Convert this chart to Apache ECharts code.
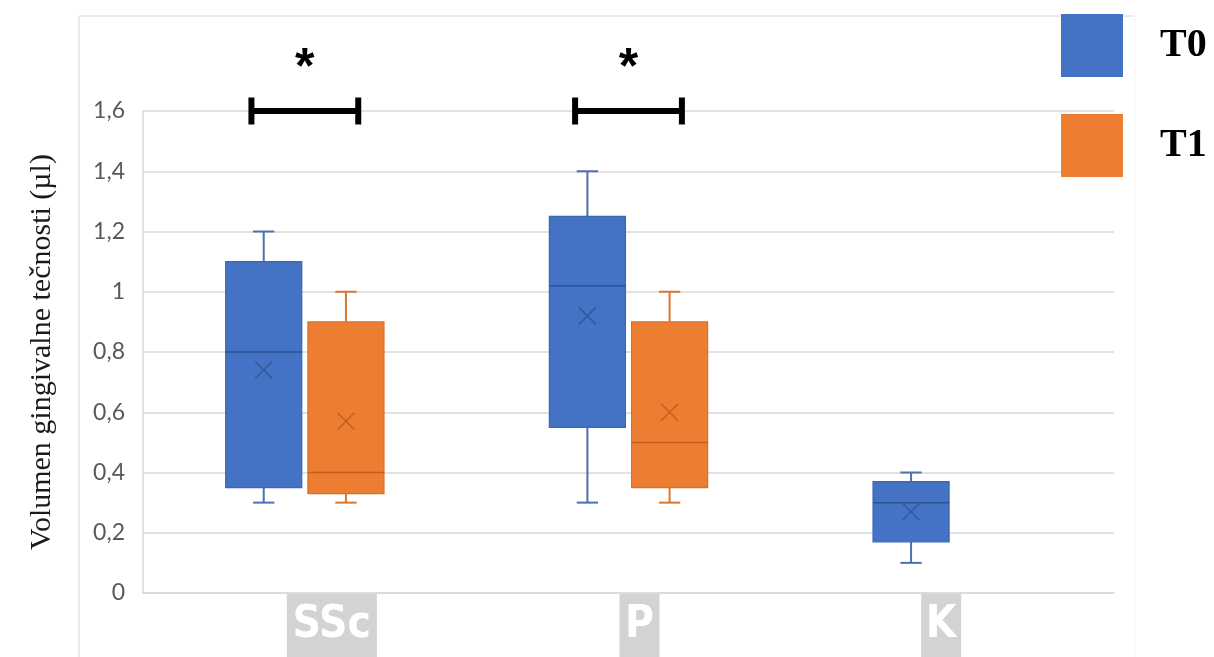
<!DOCTYPE html>
<html>
<head>
<meta charset="utf-8">
<script src="https://cdn.jsdelivr.net/npm/echarts@6/dist/echarts.min.js"></script>
<style>html,body{margin:0;padding:0;background:#fff}#c{width:1214px;height:657px}</style>
</head>
<body>
<div id="c"></div>
<script>
// ---------- DATA ----------
const categories = ['SSc', 'P', 'K'];
const seriesNames = ['T0', 'T1'];
// per category: min, Q1, median, Q3, max, mean
const t0Min    = [0.30, 0.30, 0.10];
const t0Q1     = [0.35, 0.55, 0.17];
const t0Median = [0.80, 1.02, 0.30];
const t0Q3     = [1.10, 1.25, 0.37];
const t0Max    = [1.20, 1.40, 0.40];
const t0Mean   = [0.74, 0.92, 0.27];
const t1Min    = [0.30, 0.30, null];
const t1Q1     = [0.33, 0.35, null];
const t1Median = [0.40, 0.50, null];
const t1Q3     = [0.90, 0.90, null];
const t1Max    = [1.00, 1.00, null];
const t1Mean   = [0.57, 0.60, null];
const sigCategories = ['SSc', 'P'];
const sigLevel = 1.6;
const sigMark = '*';
const yAxisTitle = 'Volumen gingivalne tečnosti (µl)';

// ---------- STYLE ----------
const BOX_W = 0.235;      // fraction of band
const BOX_OFF = 0.127;    // fraction of band
const SIG_HALF = 0.165;   // fraction of band
const LABEL_SHIFT = [27, 11, -11];
const LABEL_W = [90, 40, 40];
const palette = [
  {fill: '#4472C4', border: '#3C66B2', whisker: '#4D6FB3', median: '#2F528F', mean: '#35599A'},
  {fill: '#ED7D31', border: '#D8702A', whisker: '#D9772F', median: '#C0601E', mean: '#C0621F'}
];

function buildData(mins, q1s, meds, q3s, maxs, means) {
  const out = [];
  categories.forEach((c, i) => {
    if (mins[i] == null) return;
    out.push([c, mins[i], q1s[i], meds[i], q3s[i], maxs[i], means[i]]);
  });
  return out;
}

function boxRenderer(dir, col) {
  return function (params, api) {
    const c = api.value(0);
    const band = api.size([1, 0])[0];
    const w = band * BOX_W;
    const cx = api.coord([c, 0])[0] + dir * band * BOX_OFF;
    const y = k => api.coord([c, api.value(k)])[1];
    const yMin = y(1), yQ1 = y(2), yMed = y(3), yQ3 = y(4), yMax = y(5), yMean = y(6);
    const capW = w * 0.28;
    const ws = {stroke: col.whisker, lineWidth: 2};
    const m = 8.5;
    return {
      type: 'group',
      children: [
        {type: 'line', shape: {x1: cx, y1: yQ3, x2: cx, y2: yMax}, style: ws},
        {type: 'line', shape: {x1: cx - capW / 2, y1: yMax, x2: cx + capW / 2, y2: yMax}, style: ws},
        {type: 'line', shape: {x1: cx, y1: yQ1, x2: cx, y2: yMin}, style: ws},
        {type: 'line', shape: {x1: cx - capW / 2, y1: yMin, x2: cx + capW / 2, y2: yMin}, style: ws},
        {type: 'rect', shape: {x: cx - w / 2, y: yQ3, width: w, height: yQ1 - yQ3},
          style: {fill: col.fill, stroke: col.border, lineWidth: 1.2}},
        {type: 'line', shape: {x1: cx - w / 2, y1: yMed, x2: cx + w / 2, y2: yMed},
          style: {stroke: col.median, lineWidth: 1.5}},
        {type: 'line', shape: {x1: cx - m, y1: yMean - m, x2: cx + m, y2: yMean + m},
          style: {stroke: col.mean, lineWidth: 1.5}},
        {type: 'line', shape: {x1: cx - m, y1: yMean + m, x2: cx + m, y2: yMean - m},
          style: {stroke: col.mean, lineWidth: 1.5}}
      ]
    };
  };
}

function sigRenderer(params, api) {
  const c = api.value(0);
  const band = api.size([1, 0])[0];
  const p = api.coord([c, api.value(1)]);
  const hw = band * SIG_HALF;
  const st = {stroke: '#000', lineWidth: 6};
  return {
    type: 'group',
    children: [
      {type: 'line', shape: {x1: p[0] - hw, y1: p[1], x2: p[0] + hw, y2: p[1]}, style: st},
      {type: 'line', shape: {x1: p[0] - hw, y1: p[1] - 13.5, x2: p[0] - hw, y2: p[1] + 13.5}, style: st},
      {type: 'line', shape: {x1: p[0] + hw, y1: p[1] - 13.5, x2: p[0] + hw, y2: p[1] + 13.5}, style: st},
      {type: 'text', x: p[0], y: p[1] - 42,
        style: {text: sigMark, textAlign: 'center', textVerticalAlign: 'middle',
          fontSize: 50, fontWeight: 'bold', fontFamily: 'Liberation Sans, Arial, sans-serif', fill: '#000'}}
    ]
  };
}

const rich = {};
categories.forEach((c, i) => {
  rich['b' + i] = {
    width: LABEL_W[i], height: 64, lineHeight: 64, align: 'center',
    backgroundColor: '#d3d3d3', color: '#ffffff', fontWeight: 'bold', fontSize: 44,
    fontFamily: '"DejaVu Sans Condensed", "Liberation Sans", sans-serif'
  };
  rich['s' + i] = {width: Math.abs(LABEL_SHIFT[i]) * 2, height: 64, lineHeight: 64, fontSize: 10};
});

const chart = echarts.init(document.getElementById('c'));
chart.setOption({
  animation: false,
  backgroundColor: '#ffffff',
  grid: {left: 143, right: 100, top: 111, bottom: 64, containLabel: false, outerBoundsMode: 'none'},
  legend: {
    data: seriesNames, orient: 'vertical', left: 1061, top: 14, padding: 0, icon: 'rect',
    itemWidth: 62, itemHeight: 63, itemGap: 37, selectedMode: false,
    textStyle: {fontFamily: '"Liberation Serif", "Times New Roman", serif', fontWeight: 'bold',
      fontSize: 40, lineHeight: 40, color: '#000', padding: [20, 0, 0, 32]}
  },
  xAxis: {
    type: 'category', data: categories, boundaryGap: true,
    axisLine: {show: true, lineStyle: {color: '#d9d9d9', width: 1.5}},
    axisTick: {show: false},
    axisLabel: {
      margin: 1, rich: rich,
      formatter: function (v, i) {
        return LABEL_SHIFT[i] >= 0 ? '{s' + i + '|\u00a0}{b' + i + '|' + v + '}'
                                   : '{b' + i + '|' + v + '}{s' + i + '|\u00a0}';
      }
    }
  },
  yAxis: {
    type: 'value', min: 0, max: 1.6, interval: 0.2,
    name: yAxisTitle, nameLocation: 'middle', nameGap: 86, nameRotate: 90,
    nameTextStyle: {fontFamily: '"Liberation Serif", "Times New Roman", serif', fontSize: 30, color: '#1a1a1a'},
    axisLine: {show: true, lineStyle: {color: '#d9d9d9', width: 1.5}},
    axisTick: {show: false},
    splitLine: {lineStyle: {color: '#d9d9d9', width: 1.5}},
    axisLabel: {
      color: '#595959', fontSize: 23, fontFamily: 'Lato, "Open Sans", sans-serif', margin: 18,
      formatter: v => String(Number(v.toFixed(1))).replace('.', ',')
    }
  },
  graphic: [
    {type: 'line', silent: true, z: -1, shape: {x1: 79, y1: 16, x2: 1134, y2: 16}, style: {stroke: '#e3e3e3', lineWidth: 1.5}},
    {type: 'line', silent: true, z: -1, shape: {x1: 79, y1: 16, x2: 79, y2: 657}, style: {stroke: '#e3e3e3', lineWidth: 1.5}},
    {type: 'line', silent: true, z: -1, shape: {x1: 1135, y1: 16, x2: 1135, y2: 657}, style: {stroke: '#f3f3f3', lineWidth: 1}}
  ],
  series: [
    {name: 'T0', type: 'custom', itemStyle: {color: palette[0].fill},
      encode: {x: 0, y: [1, 2, 3, 4, 5, 6]},
      data: buildData(t0Min, t0Q1, t0Median, t0Q3, t0Max, t0Mean), renderItem: boxRenderer(-1, palette[0])},
    {name: 'T1', type: 'custom', itemStyle: {color: palette[1].fill},
      encode: {x: 0, y: [1, 2, 3, 4, 5, 6]},
      data: buildData(t1Min, t1Q1, t1Median, t1Q3, t1Max, t1Mean), renderItem: boxRenderer(1, palette[1])},
    {name: 'sig', type: 'custom', z: 5, clip: false,
      encode: {x: 0, y: 1},
      data: sigCategories.map(c => [c, sigLevel]), renderItem: sigRenderer}
  ]
});
</script>
</body>
</html>
